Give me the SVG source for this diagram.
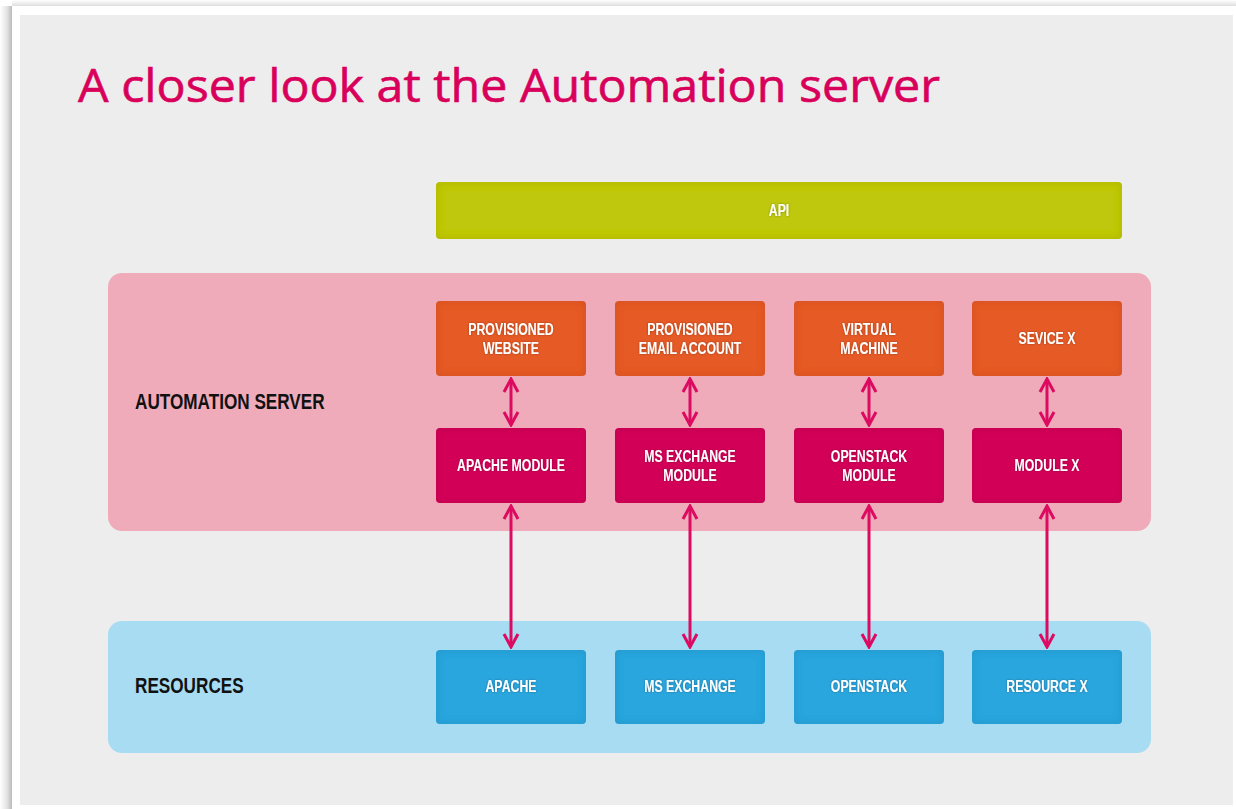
<svg xmlns="http://www.w3.org/2000/svg" width="1236" height="809" viewBox="0 0 1236 809">
<defs>
<style>
.title{font-family:"Open Sans","Liberation Sans",sans-serif;font-weight:500;font-size:46px;fill:#d8005a;stroke:#d8005a;stroke-width:0.6}
.sec{font-family:"Liberation Sans",Arial,sans-serif;font-weight:bold;font-size:22px;fill:#111}
.lbl{font-family:"Liberation Sans",Arial,sans-serif;font-weight:bold;font-size:16px;fill:#fff;text-anchor:middle;filter:url(#ts)}
.conn{stroke:#dc0a60;stroke-width:3;fill:none;marker-start:url(#ah);marker-end:url(#ah)}
.orange{fill:#e65a28;filter:url(#inner)}
.mag{fill:#d30058;filter:url(#inner)}
.blue{fill:#29a6de;filter:url(#inner)}
.apiBox{fill:#bfc80c;filter:url(#inner)}
</style>
<linearGradient id="shL" x1="0" y1="0" x2="1" y2="0">
<stop offset="0" stop-color="#ffffff"/><stop offset="0.6" stop-color="#e2e2e2"/><stop offset="1" stop-color="#b9b9b9"/>
</linearGradient>
<linearGradient id="shT" x1="0" y1="0" x2="0" y2="1">
<stop offset="0" stop-color="#ffffff"/><stop offset="1" stop-color="#dedede"/>
</linearGradient>
<filter id="inner" x="-20%" y="-40%" width="140%" height="180%">
<feFlood flood-color="#000" flood-opacity="0.2" result="f"/>
<feComposite in="f" in2="SourceAlpha" operator="out" result="o"/>
<feGaussianBlur in="o" stdDeviation="4" result="b"/>
<feComposite in="b" in2="SourceAlpha" operator="in" result="s"/>
<feMerge><feMergeNode in="SourceGraphic"/><feMergeNode in="s"/></feMerge>
</filter>
<filter id="ts" x="-20%" y="-50%" width="140%" height="200%">
<feDropShadow dx="0" dy="0" stdDeviation="1.2" flood-color="#000" flood-opacity="0.35"/>
</filter>
<marker id="ah" viewBox="-16 -9 18 18" refX="0" refY="0" markerWidth="18" markerHeight="18" markerUnits="userSpaceOnUse" orient="auto-start-reverse">
<path d="M -13 -7 L 0 0 L -13 7" fill="none" stroke="#dc0a60" stroke-width="3" stroke-linejoin="miter"/>
</marker>
</defs>

<g id="page">
<rect x="0" y="0" width="1236" height="809" fill="#ffffff"/>
<rect x="0" y="6" width="12" height="803" fill="url(#shL)"/>
<rect x="12" y="0" width="1224" height="6" fill="url(#shT)"/>
<rect x="12" y="6" width="1224" height="803" fill="#ffffff"/>
<rect x="20" y="15" width="1213" height="790" fill="#ededed"/>
<text class="title" x="78" y="102" textLength="862" lengthAdjust="spacingAndGlyphs">A closer look at the Automation server</text>
</g>

<g id="api">
<rect class="apiBox" x="436" y="182" width="686" height="57" rx="4"/>
<text class="lbl" transform="matrix(0.77 0 0 1 779 0)" x="0" y="216.5">API</text>
</g>

<g id="automation-server">
<rect x="108" y="273" width="1043" height="258" rx="14" fill="#efabb9"/>
<text class="sec" transform="matrix(0.78 0 0 1 135 0)" x="0" y="409">AUTOMATION SERVER</text>
</g>

<g id="resources">
<rect x="108" y="621" width="1043" height="132" rx="14" fill="#a8dcf2"/>
<text class="sec" transform="matrix(0.78 0 0 1 135 0)" x="0" y="693">RESOURCES</text>
</g>

<g id="connectors">
<line class="conn" x1="511" y1="379" x2="511" y2="425"/>
<line class="conn" x1="690" y1="379" x2="690" y2="425"/>
<line class="conn" x1="869" y1="379" x2="869" y2="425"/>
<line class="conn" x1="1047" y1="379" x2="1047" y2="425"/>
<line class="conn" x1="511" y1="506" x2="511" y2="647"/>
<line class="conn" x1="690" y1="506" x2="690" y2="647"/>
<line class="conn" x1="869" y1="506" x2="869" y2="647"/>
<line class="conn" x1="1047" y1="506" x2="1047" y2="647"/>
</g>

<g id="provisioned-website">
<rect class="orange" x="436" y="301" width="150" height="75" rx="4"/>
<text class="lbl" transform="matrix(0.77 0 0 1 511 0)" x="0" y="335">PROVISIONED</text>
<text class="lbl" transform="matrix(0.77 0 0 1 511 0)" x="0" y="354.5">WEBSITE</text>
</g>
<g id="provisioned-email">
<rect class="orange" x="615" y="301" width="150" height="75" rx="4"/>
<text class="lbl" transform="matrix(0.77 0 0 1 690 0)" x="0" y="335">PROVISIONED</text>
<text class="lbl" transform="matrix(0.77 0 0 1 690 0)" x="0" y="354.5">EMAIL ACCOUNT</text>
</g>
<g id="virtual-machine">
<rect class="orange" x="794" y="301" width="150" height="75" rx="4"/>
<text class="lbl" transform="matrix(0.77 0 0 1 869 0)" x="0" y="335">VIRTUAL</text>
<text class="lbl" transform="matrix(0.77 0 0 1 869 0)" x="0" y="354.5">MACHINE</text>
</g>
<g id="service-x">
<rect class="orange" x="972" y="301" width="150" height="75" rx="4"/>
<text class="lbl" transform="matrix(0.77 0 0 1 1047 0)" x="0" y="344.5">SEVICE X</text>
</g>

<g id="apache-module">
<rect class="mag" x="436" y="428" width="150" height="75" rx="4"/>
<text class="lbl" transform="matrix(0.77 0 0 1 511 0)" x="0" y="471.5">APACHE MODULE</text>
</g>
<g id="ms-exchange-module">
<rect class="mag" x="615" y="428" width="150" height="75" rx="4"/>
<text class="lbl" transform="matrix(0.77 0 0 1 690 0)" x="0" y="462">MS EXCHANGE</text>
<text class="lbl" transform="matrix(0.77 0 0 1 690 0)" x="0" y="481.5">MODULE</text>
</g>
<g id="openstack-module">
<rect class="mag" x="794" y="428" width="150" height="75" rx="4"/>
<text class="lbl" transform="matrix(0.77 0 0 1 869 0)" x="0" y="462">OPENSTACK</text>
<text class="lbl" transform="matrix(0.77 0 0 1 869 0)" x="0" y="481.5">MODULE</text>
</g>
<g id="module-x">
<rect class="mag" x="972" y="428" width="150" height="75" rx="4"/>
<text class="lbl" transform="matrix(0.77 0 0 1 1047 0)" x="0" y="471.5">MODULE X</text>
</g>

<g id="apache">
<rect class="blue" x="436" y="650" width="150" height="74" rx="4"/>
<text class="lbl" transform="matrix(0.77 0 0 1 511 0)" x="0" y="692.5">APACHE</text>
</g>
<g id="ms-exchange">
<rect class="blue" x="615" y="650" width="150" height="74" rx="4"/>
<text class="lbl" transform="matrix(0.77 0 0 1 690 0)" x="0" y="692.5">MS EXCHANGE</text>
</g>
<g id="openstack">
<rect class="blue" x="794" y="650" width="150" height="74" rx="4"/>
<text class="lbl" transform="matrix(0.77 0 0 1 869 0)" x="0" y="692.5">OPENSTACK</text>
</g>
<g id="resource-x">
<rect class="blue" x="972" y="650" width="150" height="74" rx="4"/>
<text class="lbl" transform="matrix(0.77 0 0 1 1047 0)" x="0" y="692.5">RESOURCE X</text>
</g>
</svg>
